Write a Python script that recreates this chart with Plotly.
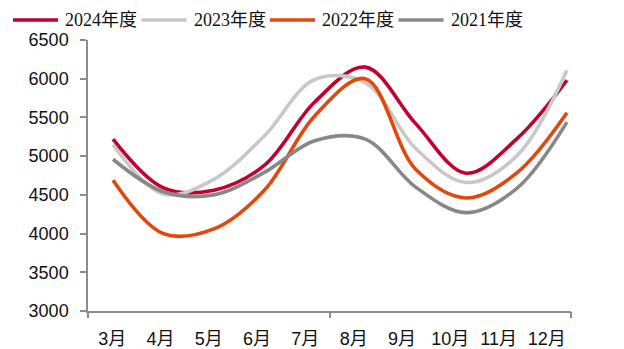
import plotly.graph_objects as go

# Monthly categories and yearly series
months = ["3月", "4月", "5月", "6月", "7月", "8月", "9月", "10月", "11月", "12月"]
series_names = ["2024年度", "2023年度", "2022年度", "2021年度"]
v2024 = [5220, 4590, 4560, 4880, 5700, 6150, 5420, 4780, 5220, 5980]
v2023 = [5150, 4510, 4700, 5260, 5990, 5950, 5100, 4660, 5000, 6110]
v2022 = [4690, 4000, 4060, 4560, 5520, 6000, 4830, 4460, 4780, 5560]
v2021 = [4960, 4540, 4500, 4790, 5200, 5220, 4600, 4270, 4580, 5440]
y_ticks = [3000, 3500, 4000, 4500, 5000, 5500, 6000, 6500]

colors = ["#C0002F", "#C8C8C8", "#E2470C", "#888888"]
values = [v2024, v2023, v2022, v2021]

AXIS_COLOR = "#8C8C8C"
NUM_FONT = "Liberation Sans, Arial, Noto Sans CJK SC"
SERIF_FONT = "Liberation Serif, Times New Roman, Noto Sans CJK SC"

fig = go.Figure()
idx = list(range(len(months)))
for name, vals, col in zip(series_names, values, colors):
    fig.add_trace(go.Scatter(
        x=idx, y=vals, name=name, mode="lines",
        line=dict(color=col, width=3.6, shape="spline", smoothing=1.0),
        xaxis="x", yaxis="y", showlegend=False,
    ))

# Invisible anchors so the overlay axes (labels / boundary ticks) render
for ax in ("x2", "x3"):
    fig.add_trace(go.Scatter(x=[0], y=[3000], mode="markers",
                             marker=dict(opacity=0), xaxis=ax, yaxis="y",
                             showlegend=False, hoverinfo="skip"))

W, H = 624, 349
ml, mr, mt, mb = 88, 53, 40, 38
pw = W - ml - mr
ph = H - mt - mb

# Hand-drawn legend row above the plot area
shapes = []
annotations = []
leg_y = 1 + 20 / ph
for k, (name, col) in enumerate(zip(series_names, colors)):
    x0_px = 13 + k * 128.5
    shapes.append(dict(
        type="line", xref="paper", yref="paper",
        x0=(x0_px - ml) / pw, x1=(x0_px + 45 - ml) / pw,
        y0=leg_y, y1=leg_y, line=dict(color=col, width=3.6),
    ))
    annotations.append(dict(
        xref="paper", yref="paper", x=(x0_px + 50 - ml) / pw, y=leg_y,
        text=name, showarrow=False, xanchor="left", yanchor="middle",
        font=dict(family=SERIF_FONT, size=18, color="#111111"),
    ))

fig.update_layout(
    width=W, height=H,
    margin=dict(l=ml, r=mr, t=mt, b=mb, autoexpand=False),
    paper_bgcolor="white", plot_bgcolor="white",
    showlegend=False,
    shapes=shapes, annotations=annotations,
    xaxis=dict(
        range=[-0.496, 9.08], showticklabels=False, ticks="",
        showline=True, linecolor=AXIS_COLOR, linewidth=1.5,
        showgrid=False, zeroline=False, anchor="y", automargin=False,
    ),
    xaxis2=dict(
        overlaying="x", anchor="y", side="bottom",
        range=[-0.5, 9.5], tickvals=idx, ticktext=months,
        showline=False, ticks="", showgrid=False, zeroline=False,
        ticklabelstandoff=15, automargin=False,
        tickfont=dict(family=NUM_FONT, size=18, color="#111111"),
    ),
    xaxis3=dict(
        overlaying="x", anchor="y", side="bottom",
        range=[-0.5, 9.5], tickvals=[-0.5, 4.5, 9.5],
        ticks="outside", ticklen=6, tickwidth=1.5, tickcolor=AXIS_COLOR,
        showticklabels=False, showline=False, showgrid=False, zeroline=False,
        automargin=False,
    ),
    yaxis=dict(
        range=[3000, 6500], tickvals=y_ticks,
        showline=True, linecolor=AXIS_COLOR, linewidth=1.5,
        ticks="outside", ticklen=6, tickwidth=1.5, tickcolor=AXIS_COLOR,
        showgrid=False, zeroline=False, ticklabelstandoff=8, automargin=False,
        tickfont=dict(family=NUM_FONT, size=18, color="#111111"),
    ),
)

fig.write_html("out.html")
